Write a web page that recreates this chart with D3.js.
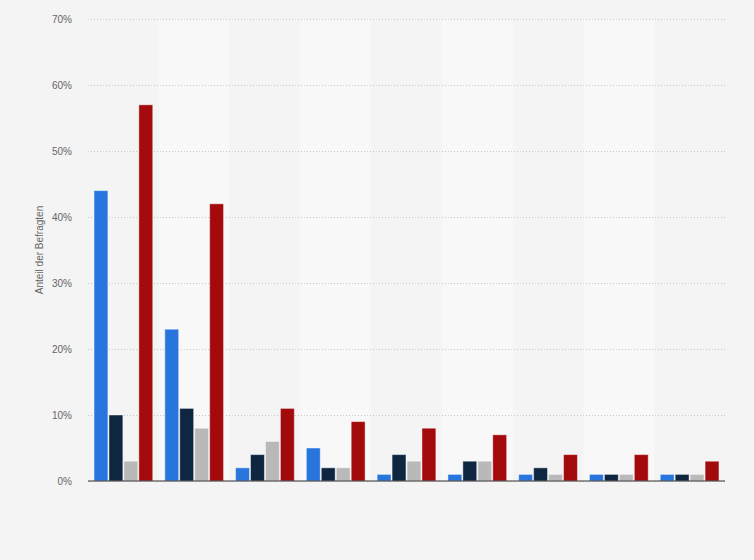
<!DOCTYPE html>
<html>
<head>
<meta charset="utf-8">
<script src="https://cdn.jsdelivr.net/npm/d3@7"></script>
<style>
  body { margin: 0; background: #f4f4f4; }
  svg { display: block; font-family: "Liberation Sans", Arial, sans-serif; }
</style>
</head>
<body>
<div id="chart"></div>
<script>
// data (percent)
const groups = ["1", "2", "3", "4", "5", "6", "7", "8", "9"];
const seriesNames = ["Serie 1", "Serie 2", "Serie 3", "Serie 4"];
const serie1 = [44, 23, 2, 5, 1, 1, 1, 1, 1];
const serie2 = [10, 11, 4, 2, 4, 3, 2, 1, 1];
const serie3 = [3, 8, 6, 2, 3, 3, 1, 1, 1];
const serie4 = [57, 42, 11, 9, 8, 7, 4, 4, 3];
const yTicks = [0, 10, 20, 30, 40, 50, 60, 70];

const colors = ["#2876dd", "#0f2640", "#b9b9b9", "#a30a0c"];

const width = 754;
const height = 560;
const margin = { top: 19, right: 29, bottom: 79, left: 88 };

const svg = d3.select("#chart")
  .append("svg")
  .attr("width", width)
  .attr("height", height);

svg.append("rect")
  .attr("width", width)
  .attr("height", height)
  .attr("fill", "#f4f4f4");

const values = [serie1, serie2, serie3, serie4];
const data = groups.map((g, i) => ({
  group: g,
  vals: seriesNames.map((s, j) => ({ series: s, value: values[j][i] }))
}));

const x = d3.scaleBand()
  .domain(groups)
  .range([margin.left, width - margin.right])
  .paddingInner(0.17)
  .paddingOuter(0.085);

const xInner = d3.scaleBand()
  .domain(seriesNames)
  .range([0, x.bandwidth()])
  .paddingInner(0.07);

const y = d3.scaleLinear()
  .domain([0, 70])
  .range([height - margin.bottom, margin.top]);

// alternating column backgrounds
const step = x.step();
svg.append("g")
  .selectAll("rect")
  .data(groups.filter((g, i) => i % 2 === 1))
  .enter()
  .append("rect")
  .attr("x", d => x(d) - step * 0.085)
  .attr("y", margin.top)
  .attr("width", step)
  .attr("height", height - margin.bottom - margin.top)
  .attr("fill", "#f8f8f8");

// gridlines + tick labels
const yAxis = svg.append("g")
  .attr("transform", `translate(${margin.left},0)`)
  .call(d3.axisLeft(y)
    .tickValues(yTicks)
    .tickSize(-(width - margin.left - margin.right))
    .tickPadding(16)
    .tickFormat(d => d + "%"));

yAxis.select(".domain").remove();
yAxis.selectAll(".tick line")
  .attr("stroke", "#c8c8c8")
  .attr("stroke-dasharray", "1,2");
yAxis.selectAll(".tick text")
  .attr("fill", "#666")
  .attr("font-size", 10);

// bars
const grp = svg.selectAll(".grp")
  .data(data)
  .enter()
  .append("g")
  .attr("class", "grp")
  .attr("transform", d => `translate(${x(d.group)},0)`);

grp.selectAll("rect")
  .data(d => d.vals)
  .enter()
  .append("rect")
  .attr("x", d => xInner(d.series))
  .attr("y", d => y(d.value))
  .attr("width", xInner.bandwidth())
  .attr("height", d => y(0) - y(d.value))
  .attr("fill", (d, i) => colors[i])
  .attr("stroke", "rgba(255,255,255,0.45)")
  .attr("stroke-width", 1);

// baseline
svg.append("line")
  .attr("x1", margin.left)
  .attr("x2", width - margin.right)
  .attr("y1", y(0))
  .attr("y2", y(0))
  .attr("stroke", "#333")
  .attr("stroke-width", 1.2);

// y axis title
svg.append("text")
  .attr("transform", `translate(43,${(margin.top + height - margin.bottom) / 2}) rotate(-90)`)
  .attr("text-anchor", "middle")
  .attr("fill", "#666")
  .attr("font-size", 10)
  .text("Anteil der Befragten");
</script>
</body>
</html>
